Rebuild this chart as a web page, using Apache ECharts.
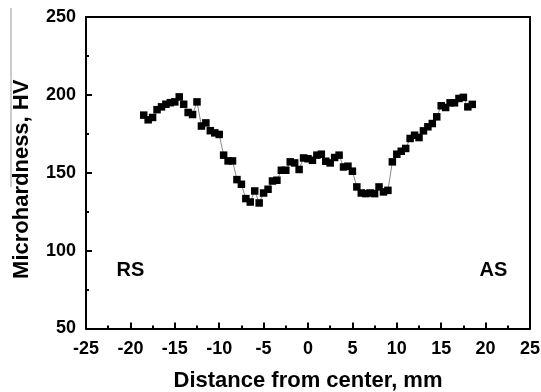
<!DOCTYPE html>
<html>
<head>
<meta charset="utf-8">
<script src="https://cdn.jsdelivr.net/npm/echarts@6/dist/echarts.min.js"></script>
<style>
html,body{margin:0;padding:0;background:#fff;}
#c{width:541px;height:392px;}
</style>
</head>
<body>
<div id="c"></div>
<script>
var distances = [-18.5,-18,-17.5,-17,-16.5,-16,-15.5,-15,-14.5,-14,-13.5,-13,-12.5,-12,-11.5,-11,-10.5,-10,-9.5,-9,-8.5,-8,-7.5,-7,-6.5,-6,-5.5,-5,-4.5,-4,-3.5,-3,-2.5,-2,-1.5,-1,-0.5,0,0.5,1,1.5,2,2.5,3,3.5,4,4.5,5,5.5,6,6.5,7,7.5,8,8.5,9,9.5,10,10.5,11,11.5,12,12.5,13,13.5,14,14.5,15,15.5,16,16.5,17,17.5,18,18.5];
var hardness = [187,184,185.5,190.5,192.3,194,195,195.5,198.7,194,188.7,187.4,195.5,180,182,177,175.6,174.6,161.3,157.6,157.6,145.6,142.6,133.4,131.2,138.3,130.6,137,139.4,144.7,145.2,151.6,151.6,157,156.3,152.1,159.5,159,158,161.3,161.9,157.4,156.3,159.8,161.3,153.7,154.2,151,140.9,137,136.6,137,136.6,140.9,137.7,138.7,157,161.9,163.8,165.6,172,174.1,172.6,176.9,179.5,181.6,185.9,193,191.9,194.9,194.9,197.7,198.4,192.3,193.9];
var xTicks = [-25,-20,-15,-10,-5,0,5,10,15,20,25];
var yTicks = [50,100,150,200,250];
var regionLabels = ['RS','AS'];

var pts = distances.map(function(d,i){return [d, hardness[i]];});
var chart = echarts.init(document.getElementById('c'), null, {renderer:'canvas'});
var FF = '"Liberation Sans", Arial, sans-serif';
var plainAxis = {
  axisLine:{show:true, onZero:false, lineStyle:{color:'#000', width:2}},
  axisTick:{show:false}, axisLabel:{show:false}, splitLine:{show:false}
};
chart.setOption({
  animation:false,
  backgroundColor:'#fff',
  grid:{left:86, right:11, top:17, bottom:63.5, containLabel:false, outerBoundsMode:'none'},
  xAxis:[{
    type:'value', min:-25, max:25, interval:5,
    name:'Distance from center, mm', nameLocation:'middle', nameGap:41,
    nameTextStyle:{color:'#000', fontFamily:FF, fontWeight:'bold', fontSize:22},
    axisLine:{show:true, onZero:false, lineStyle:{color:'#000', width:2}},
    axisTick:{show:true, inside:true, length:6, lineStyle:{color:'#000', width:2}},
    minorTick:{show:true, splitNumber:2, length:3, lineStyle:{color:'#000', width:2}},
    splitLine:{show:false},
    axisLabel:{margin:12, color:'#000', fontFamily:FF, fontWeight:'bold', fontSize:18,
      formatter:function(v){return xTicks.indexOf(v)>=0?String(v):'';}}
  }, Object.assign({type:'value', position:'top', min:-25, max:25, interval:5}, plainAxis)],
  yAxis:[{
    type:'value', min:50, max:250, interval:50,
    name:'Microhardness, HV', nameLocation:'middle', nameGap:53,
    nameTextStyle:{color:'#000', fontFamily:FF, fontWeight:'bold', fontSize:22, padding:[0,13,0,0]},
    axisLine:{show:true, onZero:false, lineStyle:{color:'#000', width:2}},
    axisTick:{show:true, inside:true, length:6, lineStyle:{color:'#000', width:2}},
    minorTick:{show:true, splitNumber:2, length:3, lineStyle:{color:'#000', width:2}},
    splitLine:{show:false},
    axisLabel:{margin:10, color:'#000', fontFamily:FF, fontWeight:'bold', fontSize:18,
      formatter:function(v){return yTicks.indexOf(v)>=0?String(v):'';}}
  }, Object.assign({type:'value', position:'right', min:50, max:250, interval:50}, plainAxis)],
  series:[{
    type:'line', data:pts, symbol:'rect', symbolSize:7.5,
    itemStyle:{color:'#000'},
    lineStyle:{color:'#8a8a8a', width:1},
    z:3
  }],
  graphic:[
    {type:'line', shape:{x1:11, y1:8, x2:11, y2:187}, style:{stroke:'#999', lineWidth:1}},
    {type:'text', x:130.5, y:270, style:{text:regionLabels[0], fill:'#000', font:'bold 20px "Liberation Sans", Arial, sans-serif', textAlign:'center', textVerticalAlign:'middle'}},
    {type:'text', x:493.5, y:270, style:{text:regionLabels[1], fill:'#000', font:'bold 20px "Liberation Sans", Arial, sans-serif', textAlign:'center', textVerticalAlign:'middle'}}
  ]
});
</script>
</body>
</html>
